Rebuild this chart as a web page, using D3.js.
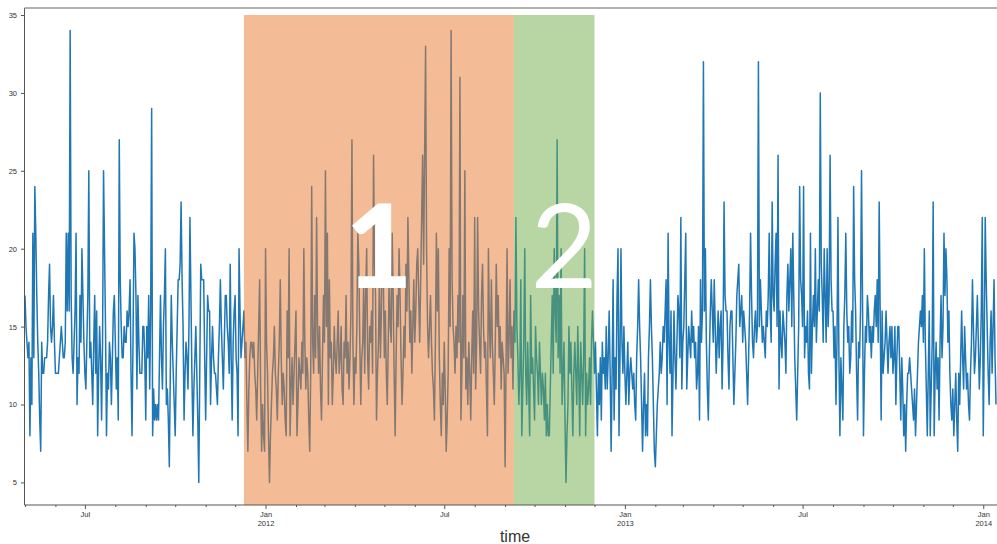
<!DOCTYPE html>
<html>
<head>
<meta charset="utf-8">
<script src="https://cdn.jsdelivr.net/npm/d3@7"></script>
<style>
  html, body { margin: 0; padding: 0; background: #fff; }
  svg { display: block; }
  .tick text { font-family: "Liberation Sans", Arial, sans-serif; fill: #333; }
</style>
</head>
<body>
<div id="chart"></div>
<script>
// daily values, one row per month
const v2011 = [ // May .. Dec
  [17,15,14,13,14,8,13,10,21,13,24,21,17,14,12,9,7,14,12,12,13,13,13,14,17,19,15,14,15,17,14],
  [12,12,12,12,13,14,15,14,13,13,14,21,16,21,16,34,17,13,12,14,16,21,10,13,12,17,14,20,17,14],
  [12,11,14,17,25,13,14,12,10,14,17,12,16,8,12,15,13,9,14,25,20,15,8,12,11,14,13,10,13,16,17],
  [14,11,13,9,27,18,15,13,13,15,14,14,16,15,16,18,12,8,14,21,20,17,11,17,14,12,12,12,15,15,13],
  [9,15,13,17,11,16,29,8,11,9,10,9,10,9,13,17,13,11,15,17,20,10,11,9,6,12,17,14,12,10],
  [8,12,15,18,18,19,23,18,15,9,12,14,13,11,15,22,17,12,8,11,13,15,12,9,5,12,19,18,18,18,13],
  [9,13,17,16,16,10,13,15,13,12,12,11,10,13,15,18,15,13,11,14,17,17,15,14,12,19,13,9,14,16],
  [17,13,12,8,20,16,13,14,15,16,13,14,10,7,11,13,14,14,13,14,12,11,9,12,15,18,11,7,10,8,7]
];
const v2012 = [
  [20,14,12,8,5,8,10,12,13,15,12,11,9,12,14,18,13,10,12,11,9,8,16,13,20,8,11,13,10,12,14],
  [16,8,10,13,12,11,14,12,20,14,11,13,12,9,7,12,24,14,12,17,13,22,15,12,15,11,9,13,17],
  [14,25,15,21,10,18,13,14,10,12,15,13,12,14,16,12,13,15,11,10,14,13,17,12,14,11,13,16,27,14,10],
  [13,12,15,21,19,14,10,13,14,18,12,17,20,13,11,15,14,16,12,26,19,17,9,12,14,18,13,16,21,18],
  [13,16,12,10,14,19,15,14,21,17,12,8,13,17,15,20,17,13,10,12,15,13,19,16,22,18,14,16,12,15,18],
  [14,16,19,20,17,14,18,22,26,19,26,33,20,15,13,15,17,14,12,11,9,14,21,16,20,13,10,8,12,10],
  [14,11,7,9,12,20,15,34,18,15,14,12,15,13,17,14,31,9,12,17,13,25,11,13,10,14,12,9,13,16,12],
  [22,11,14,22,16,14,12,17,19,15,13,14,11,8,20,15,13,18,14,12,10,14,19,15,17,13,15,11,14,13,12],
  [6,13,20,12,14,18,13,15,11,16,14,22,15,13,10,12,18,8,11,14,20,12,10,14,11,8,17,12,13,11],
  [9,15,13,12,10,14,12,10,12,11,9,12,8,10,8,8,11,14,17,12,20,16,14,27,13,17,12,20,10,12,14],
  [9,5,8,10,15,12,14,11,8,12,14,12,10,15,12,8,14,12,10,13,20,8,12,10,11,13,10,14,16,14],
  [12,14,11,8,12,10,13,9,14,12,13,11,15,11,13,16,12,7,12,18,9,13,11,17,20,8,13,20,14,12,15]
];
const v2013 = [
  [12,10,12,14,10,12,13,12,11,12,10,9,13,15,18,15,13,10,7,10,12,8,10,8,13,15,18,15,13,10,7],
  [6,8,10,11,12,14,12,13,15,14,16,18,10,21,14,12,16,8,12,16,13,11,14,17,16,13,22,11],
  [14,15,18,21,11,13,15,14,13,16,14,15,13,14,11,12,15,9,18,14,16,32,16,20,14,11,9,13,16,18,16],
  [14,18,15,12,14,16,13,15,16,11,14,23,17,16,16,13,11,15,16,16,13,10,12,14,17,18,19,15,16,17],
  [14,16,15,14,12,10,13,16,21,17,14,13,15,16,14,15,32,15,18,16,14,15,14,13,16,15,17,21,16,14,23],
  [17,16,19,21,15,26,11,16,14,13,16,15,14,12,17,19,16,18,20,15,21,17,13,11,9,12,15,24,18,17],
  [15,24,13,15,14,16,12,11,21,12,15,17,15,20,14,16,18,16,30,19,17,14,20,17,14,20,15,17,26,18,16],
  [16,13,15,10,14,22,13,8,13,11,9,15,17,21,16,14,15,12,13,16,14,24,18,16,12,9,14,13,16,25,17],
  [8,12,15,14,17,16,14,15,13,15,14,16,17,15,18,14,23,16,9,16,12,13,14,16,14,12,14,15,13,15],
  [12,13,15,10,13,15,15,12,9,13,11,8,10,7,10,12,12,13,12,11,10,9,11,8,10,12,14,15,16,15,17],
  [14,20,14,11,8,12,16,8,11,14,23,8,12,14,11,13,9,14,17,13,15,21,17,20,18,14,16,12,10,9],
  [11,8,10,12,9,7,12,10,13,16,13,11,15,13,11,12,10,9,12,14,18,15,12,13,15,17,14,11,13,16,22]
];
const v2014 = [
  [8,14,22,18,15,12,10,14,16,12,15,18,13,10]
];

const yTicks = [5, 10, 15, 20, 25, 30, 35];
const periodLabels = ["1", "2"];
const periodStarts = ["2011-12-10", "2012-09-10"];
const periodEnds = ["2012-09-10", "2012-12-01"];
const periodTop = 35;
const xLabel = "time";

const width = 997, height = 544;
const margin = {top: 8, right: 0, bottom: 39, left: 25};

function expand(year, firstMonth, months) {
  return months.flatMap((vals, m) => {
    const len = new Date(year, firstMonth + m + 1, 0).getDate();
    return vals.slice(0, len).map((v, i) => ({date: new Date(year, firstMonth + m, 1 + i), value: v}));
  });
}

const data = [
  ...expand(2011, 4, v2011),
  ...expand(2012, 0, v2012),
  ...expand(2013, 0, v2013),
  ...expand(2014, 0, v2014)
];

const parse = d3.timeParse("%Y-%m-%d");

const svg = d3.select('#chart').append('svg')
  .attr('width', width)
  .attr('height', height);

const x = d3.scaleTime()
  .domain([new Date(2011, 4, 1), new Date(2014, 0, 15)])
  .range([margin.left, width - margin.right]);

const y = d3.scaleLinear()
  .domain([3.55, 35.45])
  .range([height - margin.bottom, margin.top]);

const bottomY = height - margin.bottom;

// series
svg.append('path')
  .datum(data)
  .attr('fill', 'none')
  .attr('stroke', '#1f77b4')
  .attr('stroke-width', 1.5)
  .attr('stroke-linejoin', 'round')
  .attr('d', d3.line().x(d => x(d.date)).y(d => y(d.value)));

// shaded periods, drawn over the line
const shadeColors = ['#e9792d', '#6fad47'];
svg.append('g')
  .selectAll('rect')
  .data(periodLabels)
  .join('rect')
  .attr('x', (d, i) => x(parse(periodStarts[i])))
  .attr('width', (d, i) => x(parse(periodEnds[i])) - x(parse(periodStarts[i])))
  .attr('y', y(periodTop))
  .attr('height', bottomY - y(periodTop))
  .attr('fill', (d, i) => shadeColors[i])
  .attr('fill-opacity', 0.5);

// big period numbers
const labelX = [
  (x(parse(periodStarts[0])) + x(parse(periodEnds[0]))) / 2,
  (x(parse(periodStarts[1])) + x(parse(periodEnds[1]))) / 2 + 10
];
svg.append('g')
  .selectAll('text')
  .data(periodLabels)
  .join('text')
  .attr('x', (d, i) => labelX[i])
  .attr('y', y(17.5))
  .attr('text-anchor', 'middle')
  .attr('font-family', 'Lato, "Open Sans", sans-serif')
  .attr('font-weight', (d, i) => i === 0 ? 900 : 400)
  .attr('font-size', 116)
  .attr('fill', '#fff')
  .text(d => d);

// axes
const yAxis = svg.append('g')
  .attr('transform', `translate(${margin.left - 0.5},0)`)
  .call(d3.axisLeft(y).tickValues(yTicks).tickSize(3.5).tickPadding(4));
yAxis.select('.domain').remove();
yAxis.selectAll('.tick line').attr('stroke', '#555');
yAxis.selectAll('.tick text').attr('font-size', 7.5);

const allMonths = d3.timeMonth.range(new Date(2011, 4, 1), new Date(2014, 0, 16));
const majors = allMonths.filter(d => d.getMonth() === 0 || d.getMonth() === 6);
const minors = allMonths.filter(d => d.getMonth() !== 0 && d.getMonth() !== 6);

const xMinor = svg.append('g')
  .attr('transform', `translate(0,${bottomY})`)
  .call(d3.axisBottom(x).tickValues(minors).tickSize(2).tickFormat(''));
xMinor.select('.domain').remove();
xMinor.selectAll('.tick line').attr('stroke', '#555');

const xMajor = svg.append('g')
  .attr('transform', `translate(0,${bottomY})`)
  .call(d3.axisBottom(x).tickValues(majors).tickSize(4).tickPadding(3).tickFormat(d3.timeFormat('%b')));
xMajor.select('.domain').remove();
xMajor.selectAll('.tick line').attr('stroke', '#555');
xMajor.selectAll('.tick text')
  .attr('font-size', 7.5)
  .each(function(d) {
    if (d.getMonth() === 0) {
      d3.select(this).append('tspan')
        .attr('x', 0)
        .attr('dy', '1.15em')
        .text(d.getFullYear());
    }
  });

// spines
svg.append('line')
  .attr('x1', margin.left - 0.5).attr('x2', margin.left - 0.5)
  .attr('y1', margin.top).attr('y2', bottomY)
  .attr('stroke', '#555').attr('stroke-width', 1);
svg.append('line')
  .attr('x1', margin.left - 0.5).attr('x2', width)
  .attr('y1', bottomY).attr('y2', bottomY)
  .attr('stroke', '#555').attr('stroke-width', 1);
svg.append('line')
  .attr('x1', margin.left - 0.5).attr('x2', width)
  .attr('y1', margin.top).attr('y2', margin.top)
  .attr('stroke', '#999').attr('stroke-width', 1.5);

svg.append('text')
  .attr('x', (margin.left + width) / 2 + 4)
  .attr('y', 542)
  .attr('text-anchor', 'middle')
  .attr('font-family', '"Liberation Sans", Arial, sans-serif')
  .attr('font-size', 16)
  .attr('fill', '#333')
  .text(xLabel);
</script>
</body>
</html>
